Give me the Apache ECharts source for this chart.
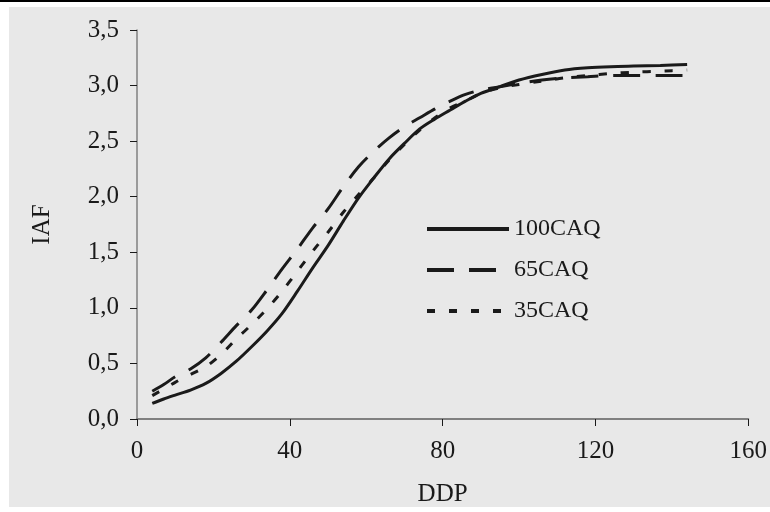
<!DOCTYPE html>
<html>
<head>
<meta charset="utf-8">
<script src="https://cdn.jsdelivr.net/npm/echarts@6/dist/echarts.min.js"></script>
<style>html,body{margin:0;padding:0;background:#fff}#c{width:770px;height:512px}</style>
</head>
<body>
<div id="c"></div>
<script>
const ddp = [4, 7, 10, 14, 18, 22, 26, 30, 34, 38, 42, 46, 50, 54, 58, 62, 66, 70, 74, 78, 82, 86, 90, 95, 100, 106, 112, 118, 124, 130, 137, 144];
const caq100 = [0.14, 0.18, 0.215, 0.26, 0.32, 0.41, 0.52, 0.65, 0.79, 0.95, 1.15, 1.36, 1.56, 1.78, 1.99, 2.17, 2.34, 2.48, 2.61, 2.70, 2.78, 2.86, 2.93, 2.99, 3.05, 3.10, 3.14, 3.16, 3.17, 3.175, 3.18, 3.19];
const caq65 = [0.25, 0.31, 0.38, 0.45, 0.55, 0.69, 0.84, 0.98, 1.16, 1.35, 1.53, 1.72, 1.89, 2.09, 2.27, 2.41, 2.53, 2.63, 2.71, 2.79, 2.86, 2.92, 2.96, 2.99, 3.02, 3.05, 3.07, 3.08, 3.09, 3.09, 3.09, 3.09];
const caq35 = [0.21, 0.27, 0.33, 0.40, 0.47, 0.58, 0.72, 0.85, 0.99, 1.15, 1.33, 1.51, 1.68, 1.86, 2.02, 2.17, 2.33, 2.47, 2.60, 2.71, 2.80, 2.86, 2.93, 2.98, 3.01, 3.04, 3.07, 3.09, 3.11, 3.12, 3.13, 3.14];
const seriesNames = ['100CAQ', '65CAQ', '35CAQ'];
const yTicks = ['0,0', '0,5', '1,0', '1,5', '2,0', '2,5', '3,0', '3,5'];

const pair = (ys) => ddp.map((x, i) => [x, ys[i]]);
const font = "'Liberation Serif', 'Times New Roman', Times, serif";
const ink = '#1a1a1a';

const chart = echarts.init(document.getElementById('c'), null, {renderer: 'canvas'});
chart.setOption({
  backgroundColor: '#ffffff',
  animation: false,
  graphic: [
    {type: 'rect', shape: {x: 9, y: 7, width: 761, height: 500}, style: {fill: '#e8e8e8'}, z: -10},
    {type: 'rect', shape: {x: 0, y: 0, width: 770, height: 2}, style: {fill: '#000'}, z: -10}
  ],
  grid: {left: 137, right: 17, top: 30, bottom: 91},
  xAxis: {
    type: 'value', min: 0, max: 160, interval: 40,
    name: 'DDP', nameLocation: 'middle', nameGap: 63,
    nameTextStyle: {fontFamily: font, fontSize: 25, color: ink},
    axisLine: {lineStyle: {color: '#808080', width: 2}},
    axisTick: {show: true, length: 7, lineStyle: {color: ink, width: 1}},
    axisLabel: {fontFamily: font, fontSize: 25, color: ink, margin: 20},
    splitLine: {show: false}
  },
  yAxis: {
    type: 'value', min: 0, max: 3.5, interval: 0.5,
    name: 'IAF', nameLocation: 'middle', nameGap: 82,
    nameTextStyle: {fontFamily: font, fontSize: 25, color: ink},
    axisLine: {show: true, lineStyle: {color: '#808080', width: 1.5}},
    axisTick: {show: true, length: 7, lineStyle: {color: ink, width: 1}},
    axisLabel: {fontFamily: font, fontSize: 25, color: ink, margin: 18,
      formatter: (v) => yTicks[Math.round(v / 0.5)]},
    splitLine: {show: false}
  },
  legend: {
    orient: 'vertical', left: 425, top: 217, itemGap: 17, padding: 0,
    itemWidth: 82, itemHeight: 24,
    itemStyle: {color: 'rgba(0,0,0,0)', borderWidth: 0},
    lineStyle: {width: 4, color: ink, type: 'inherit', cap: 'butt'},
    textStyle: {fontFamily: font, fontSize: 24, color: ink},
    data: seriesNames,
    selectedMode: false
  },
  series: [
    {name: seriesNames[0], type: 'line', data: pair(caq100), showSymbol: false, symbol: 'none', smooth: 0.3,
      lineStyle: {color: ink, width: 3, type: 'solid', cap: 'butt'}, itemStyle: {color: ink}},
    {name: seriesNames[1], type: 'line', data: pair(caq65), showSymbol: false, symbol: 'none', smooth: 0.3,
      lineStyle: {color: ink, width: 3, type: [27, 15], cap: 'butt'}, itemStyle: {color: ink}},
    {name: seriesNames[2], type: 'line', data: pair(caq35), showSymbol: false, symbol: 'none', smooth: 0.3,
      lineStyle: {color: ink, width: 3, type: [8, 14], cap: 'butt'}, itemStyle: {color: ink}}
  ]
});
</script>
</body>
</html>
